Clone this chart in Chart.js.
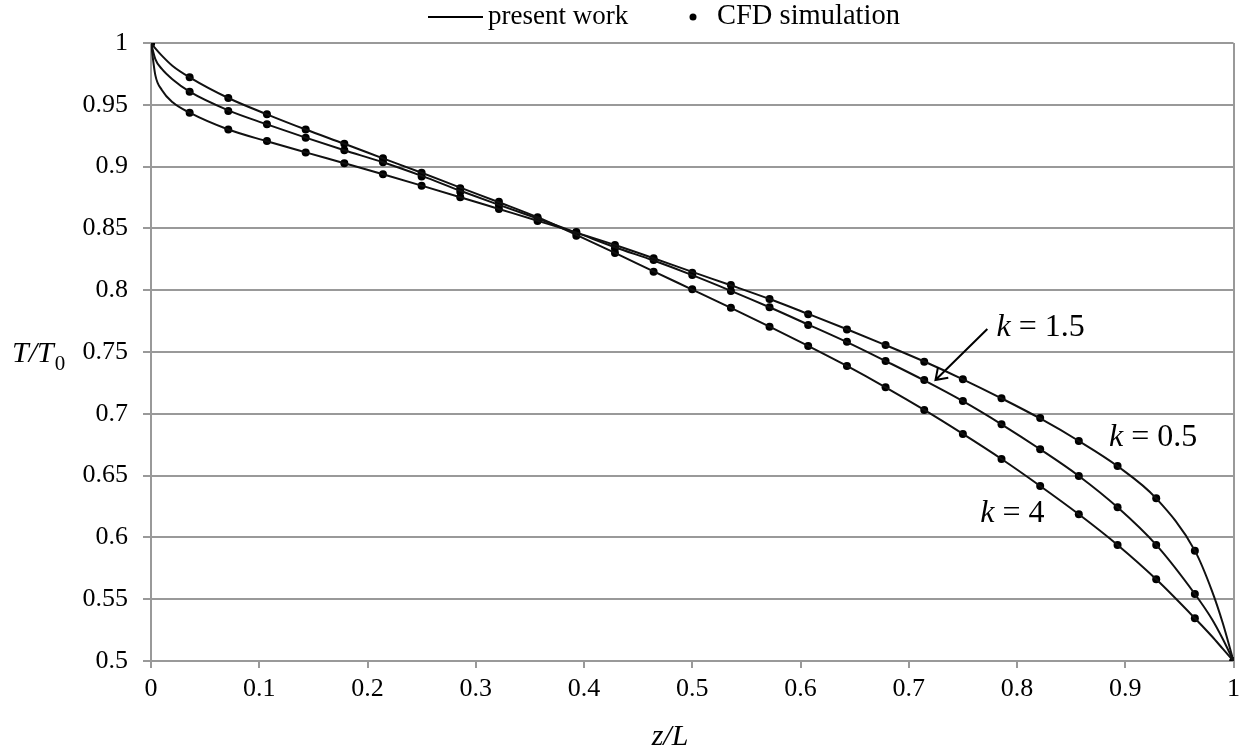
<!DOCTYPE html>
<html>
<head>
<meta charset="utf-8">
<title>T/T0 along z/L</title>
<script src="https://cdn.jsdelivr.net/npm/chart.js@4.4.1/dist/chart.umd.min.js"></script>
<style>
  html, body { margin: 0; padding: 0; background: #fff; }
</style>
</head>
<body>
<canvas id="tempChart" width="1246" height="752"></canvas>
<script>
// CFD probe positions along the channel (z/L)
const zCfd = [0, 0.0357, 0.0714, 0.1071, 0.1429, 0.1786, 0.2143, 0.25, 0.2857, 0.3214,
  0.3571, 0.3929, 0.4286, 0.4643, 0.5, 0.5357, 0.5714, 0.6071, 0.6429, 0.6786,
  0.7143, 0.75, 0.7857, 0.8214, 0.8571, 0.8929, 0.9286, 0.9643, 1];

// CFD temperature ratio T/T0
const cfdK05 = [1, 0.9436, 0.930, 0.9207, 0.9115, 0.9027, 0.8938, 0.8846, 0.8752, 0.8657,
  0.8560, 0.8470, 0.8366, 0.8258, 0.8142, 0.8042, 0.7929, 0.7805, 0.7683, 0.7557,
  0.7422, 0.7279, 0.7125, 0.6966, 0.678, 0.6578, 0.6316, 0.5893, 0.5];
const cfdK15 = [1, 0.9606, 0.945, 0.9342, 0.9234, 0.9132, 0.9035, 0.892, 0.8797, 0.8689,
  0.8580, 0.8465, 0.834, 0.8244, 0.8123, 0.7994, 0.7862, 0.7718, 0.7583, 0.7427,
  0.7273, 0.7104, 0.6915, 0.6713, 0.6497, 0.6243, 0.5939, 0.5542, 0.5];
const cfdK4 = [1, 0.9722, 0.9555, 0.9423, 0.930, 0.9185, 0.9067, 0.895, 0.8824, 0.8716,
  0.8590, 0.8440, 0.830, 0.815, 0.8007, 0.7858, 0.7705, 0.7549, 0.7387, 0.7214,
  0.7031, 0.6837, 0.6634, 0.6416, 0.6187, 0.5939, 0.5661, 0.5346, 0.5];

// model (present work) curves, with extra samples close to both ends
const zModel = [0, 0.004, 0.01, 0.02, 0.0357, 0.0714, 0.1071, 0.1429, 0.1786, 0.2143,
  0.25, 0.2857, 0.3214, 0.3571, 0.3929, 0.4286, 0.4643, 0.5, 0.5357, 0.5714,
  0.6071, 0.6429, 0.6786, 0.7143, 0.75, 0.7857, 0.8214, 0.8571, 0.8929, 0.9286,
  0.9643, 0.98, 0.99, 1];
const modelK05 = [1, 0.974, 0.962, 0.952, 0.9436, 0.930, 0.9205, 0.9115, 0.9027, 0.8938,
  0.8846, 0.8752, 0.8657, 0.8562, 0.8466, 0.8366, 0.8259, 0.8148, 0.8040, 0.7929,
  0.7808, 0.7684, 0.7556, 0.7423, 0.7279, 0.7125, 0.6962, 0.6780, 0.6576, 0.6316,
  0.5893, 0.557, 0.531, 0.5];
const modelK15 = [1, 0.987, 0.979, 0.9705, 0.9606, 0.9455, 0.9342, 0.9234, 0.9132, 0.9035,
  0.8925, 0.8805, 0.8690, 0.8580, 0.8466, 0.8348, 0.8240, 0.8122, 0.7995, 0.7862,
  0.7722, 0.7580, 0.7427, 0.7270, 0.7102, 0.6915, 0.6713, 0.6497, 0.6243, 0.5939,
  0.5542, 0.534, 0.518, 0.5];
const modelK4 = [1, 0.9957, 0.9898, 0.9814, 0.9722, 0.9555, 0.9423, 0.930, 0.9185, 0.9067,
  0.8950, 0.8830, 0.8712, 0.8590, 0.8448, 0.8302, 0.8152, 0.8005, 0.7857, 0.7705,
  0.7549, 0.7387, 0.7214, 0.7031, 0.6837, 0.6634, 0.6416, 0.6187, 0.5939, 0.5661,
  0.5346, 0.520, 0.510, 0.5];

const xTickValues = [0, 0.1, 0.2, 0.3, 0.4, 0.5, 0.6, 0.7, 0.8, 0.9, 1];
const xTickLabels = ['0', '0.1', '0.2', '0.3', '0.4', '0.5', '0.6', '0.7', '0.8', '0.9', '1'];
const yTickValues = [0.5, 0.55, 0.6, 0.65, 0.7, 0.75, 0.8, 0.85, 0.9, 0.95, 1];
const yTickLabels = ['0.5', '0.55', '0.6', '0.65', '0.7', '0.75', '0.8', '0.85', '0.9', '0.95', '1'];
const legendLabels = ['present work', 'CFD simulation'];

const pairs = (xs, ys) => xs.map((x, i) => ({ x: x, y: ys[i] }));
const labelFor = (values, labels) => (v) =>
  labels[values.findIndex((t) => Math.abs(t - v) < 1e-9)];

const GRID = '#999999';
const SERIF = '"Liberation Serif", "Times New Roman", serif';

Chart.defaults.font.family = SERIF;
Chart.defaults.color = '#000';

function modelSet(values) {
  return {
    type: 'line',
    data: pairs(zModel, values),
    borderColor: '#111',
    borderWidth: 2,
    pointRadius: 0,
    fill: false,
    cubicInterpolationMode: 'monotone'
  };
}

function cfdSet(values) {
  return {
    type: 'scatter',
    data: pairs(zCfd, values),
    showLine: false,
    pointRadius: 4,
    pointHoverRadius: 4,
    pointBackgroundColor: '#000',
    pointBorderColor: '#000',
    pointBorderWidth: 0
  };
}

// k labels, arrow, legend and axis titles
const decorations = {
  id: 'decorations',
  afterDraw(chart) {
    const { ctx, scales: { x, y } } = chart;
    ctx.save();
    ctx.fillStyle = '#000';
    ctx.strokeStyle = '#000';
    ctx.textBaseline = 'middle';

    // legend
    ctx.lineWidth = 2;
    ctx.beginPath();
    ctx.moveTo(428, 17);
    ctx.lineTo(483, 17);
    ctx.stroke();
    ctx.font = '27px ' + SERIF;
    ctx.textAlign = 'left';
    ctx.fillText(legendLabels[0], 488, 17);
    ctx.beginPath();
    ctx.arc(693, 17, 3.5, 0, Math.PI * 2);
    ctx.fill();
    ctx.font = '28.5px ' + SERIF;
    ctx.fillText(legendLabels[1], 717, 17);

    // y axis title T/T0
    ctx.font = 'italic 30px ' + SERIF;
    ctx.fillText('T/T', 12, 354);
    const w = ctx.measureText('T/T').width;
    ctx.font = '21px ' + SERIF;
    ctx.fillText('0', 12 + w + 1, 364);

    // x axis title z/L
    ctx.font = 'italic 30px ' + SERIF;
    ctx.textAlign = 'center';
    ctx.fillText('z/L', 670, 737);

    // curve labels
    const kLabel = (text, zv, tv) => {
      const px = x.getPixelForValue(zv);
      const py = y.getPixelForValue(tv);
      ctx.textAlign = 'left';
      ctx.font = 'italic 32px ' + SERIF;
      ctx.fillText('k', px, py);
      const kw = ctx.measureText('k').width;
      ctx.font = '32px ' + SERIF;
      ctx.fillText(text, px + kw, py);
    };
    kLabel(' = 1.5', 0.781, 0.7694);
    kLabel(' = 0.5', 0.885, 0.6804);
    kLabel(' = 4', 0.766, 0.6189);

    // arrow pointing at the k = 1.5 curve
    const tx = x.getPixelForValue(0.7247), ty = y.getPixelForValue(0.7273);
    const sx = x.getPixelForValue(0.7726), sy = y.getPixelForValue(0.7686);
    const ang = Math.atan2(sy - ty, sx - tx);
    ctx.lineWidth = 2;
    ctx.beginPath();
    ctx.moveTo(sx, sy);
    ctx.lineTo(tx, ty);
    ctx.moveTo(tx + 13 * Math.cos(ang - 0.6), ty + 13 * Math.sin(ang - 0.6));
    ctx.lineTo(tx, ty);
    ctx.lineTo(tx + 13 * Math.cos(ang + 0.6), ty + 13 * Math.sin(ang + 0.6));
    ctx.stroke();

    ctx.restore();
  }
};

new Chart(document.getElementById('tempChart'), {
  data: {
    datasets: [
      modelSet(modelK05), modelSet(modelK15), modelSet(modelK4),
      cfdSet(cfdK05), cfdSet(cfdK15), cfdSet(cfdK4)
    ]
  },
  options: {
    responsive: false,
    animation: false,
    layout: { padding: { top: 43, right: 9, bottom: 0, left: 0 } },
    plugins: {
      legend: { display: false },
      tooltip: { enabled: false }
    },
    scales: {
      x: {
        type: 'linear',
        min: 0,
        max: 1,
        afterFit: (s) => { s.height = 91; },
        afterBuildTicks: (s) => { s.ticks = xTickValues.map((v) => ({ value: v })); },
        ticks: { padding: 6, font: { size: 26 }, callback: labelFor(xTickValues, xTickLabels) },
        grid: {
          color: (c) => (c.tick && c.tick.value === 1 ? GRID : 'transparent'),
          tickColor: GRID,
          tickLength: 7,
          lineWidth: 2
        },
        border: { color: GRID, width: 2 }
      },
      y: {
        type: 'linear',
        min: 0.5,
        max: 1,
        afterFit: (s) => { s.width = 151; },
        afterBuildTicks: (s) => { s.ticks = yTickValues.map((v) => ({ value: v })); },
        ticks: { padding: 15, font: { size: 26 }, callback: labelFor(yTickValues, yTickLabels) },
        grid: { color: GRID, tickColor: GRID, tickLength: 8, lineWidth: 2 },
        border: { color: GRID, width: 2 }
      }
    }
  },
  plugins: [decorations]
});
</script>
</body>
</html>
